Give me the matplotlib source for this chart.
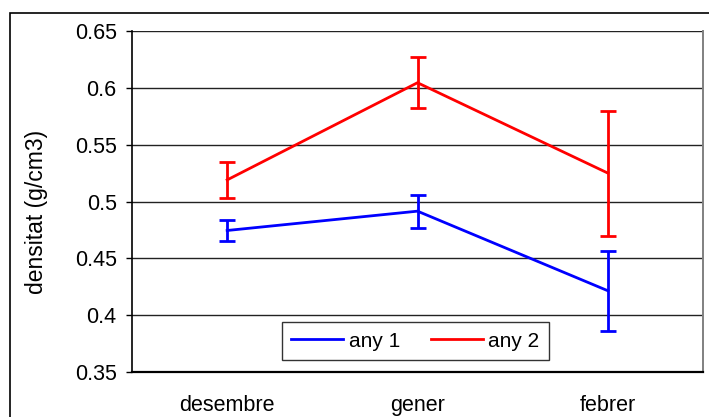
import matplotlib.pyplot as plt
from matplotlib.patches import Rectangle
from matplotlib.lines import Line2D
import numpy as np

plt.rcParams['font.family'] = ['Liberation Sans', 'DejaVu Sans']

# data
months = ['desembre', 'gener', 'febrer']
any1 = [0.4745, 0.4915, 0.4215]
any1_err = [0.0095, 0.0145, 0.035]
any2 = [0.519, 0.6045, 0.525]
any2_err = [0.0155, 0.0225, 0.055]
yticks = [0.35, 0.4, 0.45, 0.5, 0.55, 0.6, 0.65]

W, H = 709, 417
fig = plt.figure(figsize=(W / 100, H / 100), dpi=100)

# outer chart frame (cropped at right and bottom like the reference)
fig.patches.append(Rectangle((10 / W, -0.1), 1.2, (H - 13) / H + 0.1,
                             transform=fig.transFigure, fill=False,
                             edgecolor='black', linewidth=1.2))

ax = fig.add_axes([132 / W, 1 - 372 / H, (703 - 132) / W, (372 - 31) / H])

x = np.arange(len(months))
ax.errorbar(x, any1, yerr=any1_err, color='#0000ff', linewidth=2,
            capsize=5.5, capthick=2)
ax.errorbar(x, any2, yerr=any2_err, color='#ff0000', linewidth=2,
            capsize=5.5, capthick=2)

ax.set_xlim(-0.5, len(months) - 0.5)
ax.set_ylim(0.35, 0.65)
ax.set_yticks(yticks)
ax.set_yticklabels([f'{v:g}' for v in yticks])
ax.set_xticks(x)
ax.set_xticklabels(months)
ax.tick_params(axis='x', length=0, pad=16.5, labelsize=15.5)
ax.tick_params(axis='y', length=4.5, width=1, pad=6.5, labelsize=15.5)

for v in yticks[1:]:
    ax.axhline(v, color='#222222', linewidth=1, zorder=0)

ax.spines['left'].set_linewidth(1.2)
ax.spines['bottom'].set_linewidth(1.6)
ax.spines['right'].set_color('#808080')
ax.spines['right'].set_linewidth(1.4)
ax.spines['top'].set_visible(False)

ax.set_ylabel('densitat (g/cm3)', fontsize=16.5)
ax.yaxis.set_label_coords(-(132 - 48) / 571, (372 - 212) / 341)

handles = [Line2D([], [], color='#0000ff', linewidth=2),
           Line2D([], [], color='#ff0000', linewidth=2)]
leg = ax.legend(handles, ['any 1', 'any 2'], loc='lower center',
                bbox_to_anchor=(0.4965, 0.035), ncol=2, fontsize=15,
                frameon=True, fancybox=False, handlelength=2.5,
                columnspacing=1.5, borderpad=0.45, handletextpad=0.25,
                borderaxespad=0)
leg.get_frame().set_edgecolor('black')
leg.get_frame().set_linewidth(1)

fig.savefig('out.png', dpi=100)
